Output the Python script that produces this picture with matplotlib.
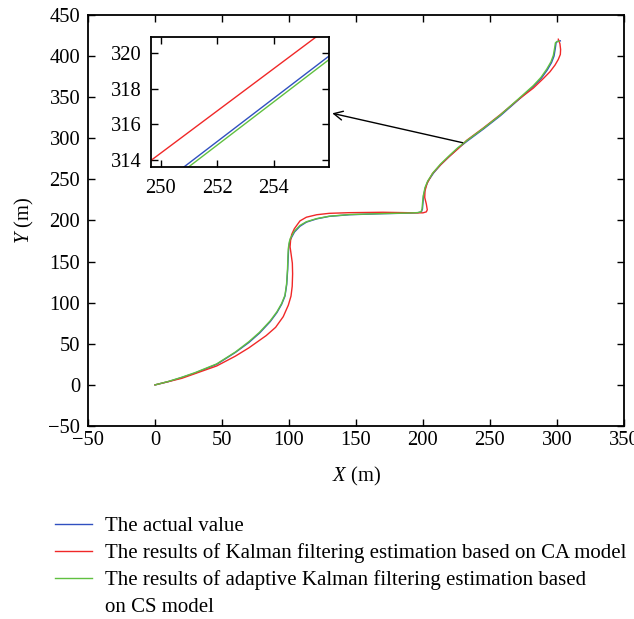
import matplotlib.pyplot as plt
from matplotlib.lines import Line2D

plt.rcParams['font.family'] = 'Liberation Serif'
plt.rcParams['mathtext.fontset'] = 'custom'
plt.rcParams['mathtext.rm'] = 'Liberation Serif'
plt.rcParams['mathtext.it'] = 'Liberation Serif:italic'
plt.rcParams['font.size'] = 14.8

# trajectories (x, y in metres)
actual_x = [0, 10, 20, 30, 46, 60, 70, 78, 86, 91, 94.5, 97, 98.3, 99, 99.4, 99.7, 100.3, 101.1,
            102.1, 104.1, 108.2, 113, 120.7, 130, 145, 170, 190, 196.3, 198.8, 199.6, 200,
            200.4, 201.8, 203.8, 208, 213.3, 220.3, 226.3, 232.9, 245.3, 257.8, 270.2, 282.6,
            288.3, 292.7, 295.9, 297.8, 298.8, 299.3, 300.5, 302.5]
actual_y = [0, 4, 9, 14.5, 25, 39.5, 51.5, 63, 77, 88, 98, 108, 122, 140, 155, 165, 172, 177,
            180, 186, 193, 198, 202, 205, 207, 208.3, 209, 209.5, 210.5, 214, 222,
            230, 240, 248, 258, 268, 279, 288, 296.5, 311.5, 327.5, 345.3, 363.5,
            373, 383, 392, 400, 410, 416, 418, 418.5]

ca_x = [0, 20, 46, 60, 70, 83, 90, 95.7, 99.5, 101.5, 102.4, 102.7, 102.5, 101.5, 100.8, 101.2,
        102, 104, 108.2, 113, 120.7, 130, 145, 170, 195, 200, 202.5, 203.2, 202.5, 201.3,
        201.5, 203, 207, 213, 219, 226, 232.6, 245, 257.5, 269.9, 282.3, 290, 294.8, 298.5,
        301, 302.5, 302.7, 302.2, 301.5, 301]
ca_y = [0, 8, 23, 35, 45, 60, 70, 83, 97, 108, 120, 135, 148, 160, 168, 176,
        183, 190, 199.5, 204, 207, 208.7, 209.5, 210, 209.3, 209.3, 210.5, 213, 220, 228,
        236, 245, 257, 267.5, 277, 287, 297.5, 312.5, 328.5, 345.5, 361, 373, 381, 389,
        396, 402, 408, 415, 418, 420.5]

cs_x = [0, 10, 20, 30, 46, 60, 70, 78, 86, 91, 94.5, 97, 98.2, 98.9, 99.2, 99.5, 100.1, 100.9,
        102, 104, 108.2, 113, 120.7, 130, 145, 170, 190, 196, 198.5, 199.3, 199.7,
        200.2, 201.5, 203.5, 207.7, 213, 220, 226, 232.6, 245, 257.5, 269.9, 282.3,
        288, 292.3, 295.5, 297.3, 298.3, 298.8, 300, 301.5]
cs_y = [0, 4.2, 9.3, 15, 25.5, 40, 52.5, 64, 78, 89, 99, 109, 123, 141, 156, 166, 173, 178,
        181, 187, 194, 198.5, 202.3, 205.2, 207.2, 208.4, 209.1, 209.6, 210.5, 214, 222,
        230, 240, 248, 258.5, 268.5, 279.5, 288.5, 297, 312, 328, 346, 364,
        374, 384, 393, 401, 410.5, 416, 417.8, 418]

# zoomed view shown in the inset
inset_x = [249.0, 256.5]
inset_actual = [311.4, 320.5]
inset_ca = [313.2, 322.1]
inset_cs = [311.2, 320.3]

labels = ['The actual value',
          'The results of Kalman filtering estimation based on CA model',
          'The results of adaptive Kalman filtering estimation based',
          'on CS model']

c_actual = '#3050c0'
c_ca = '#f02828'
c_cs = '#60c040'

fig = plt.figure(figsize=(6.34, 6.19), dpi=100)
ax = fig.add_axes([0.1388, 0.3118, 0.8454, 0.664])

ax.plot(actual_x, actual_y, color=c_actual, lw=1)
ax.plot(ca_x, ca_y, color=c_ca, lw=1)
ax.plot(cs_x, cs_y, color=c_cs, lw=1)

ax.set_xlim(-50, 350)
ax.set_ylim(-50, 450)
ax.set_xticks(range(-50, 351, 50))
ax.set_yticks(range(-50, 451, 50))
ax.tick_params(direction='in', top=True, right=True, length=5, width=1)
ax.tick_params(axis='y', pad=5.5)
for s in ax.spines.values():
    s.set_linewidth(1.3)
ax.set_xlabel(r'$X$ (m)', labelpad=11)
ax.set_ylabel(r'$Y$ (m)', labelpad=9)

# zoomed inset
ins = fig.add_axes([0.2382, 0.7302, 0.2808, 0.210])
ins.plot(inset_x, inset_actual, color=c_actual, lw=1)
ins.plot(inset_x, inset_ca, color=c_ca, lw=1)
ins.plot(inset_x, inset_cs, color=c_cs, lw=1)
ins.set_xlim(249.65, 255.95)
ins.set_ylim(313.6, 320.9)
ins.set_xticks([250, 252, 254])
ins.set_yticks([314, 316, 318, 320])
ins.tick_params(direction='in', top=True, right=True, length=5, width=1)
ins.tick_params(axis='x', pad=8.5)
ins.tick_params(axis='y', pad=6.5)
for s in ins.spines.values():
    s.set_linewidth(1.3)

ax.annotate('', xy=(132.3, 330.4), xytext=(229.6, 294.6),
            arrowprops=dict(arrowstyle='->', color='k', lw=1, mutation_scale=16,
                            shrinkA=0, shrinkB=0))

handles = [Line2D([], [], color=c_actual, lw=1),
           Line2D([], [], color=c_ca, lw=1),
           Line2D([], [], color=c_cs, lw=1),
           Line2D([], [], color='none', lw=1)]
fig.legend(handles, labels, loc='upper left', bbox_to_anchor=(0.074, 0.179),
           frameon=False, handlelength=1.78, handletextpad=0.62, labelspacing=0.34,
           borderaxespad=0, fontsize=15.0)

fig.savefig('out.png', dpi=100)
